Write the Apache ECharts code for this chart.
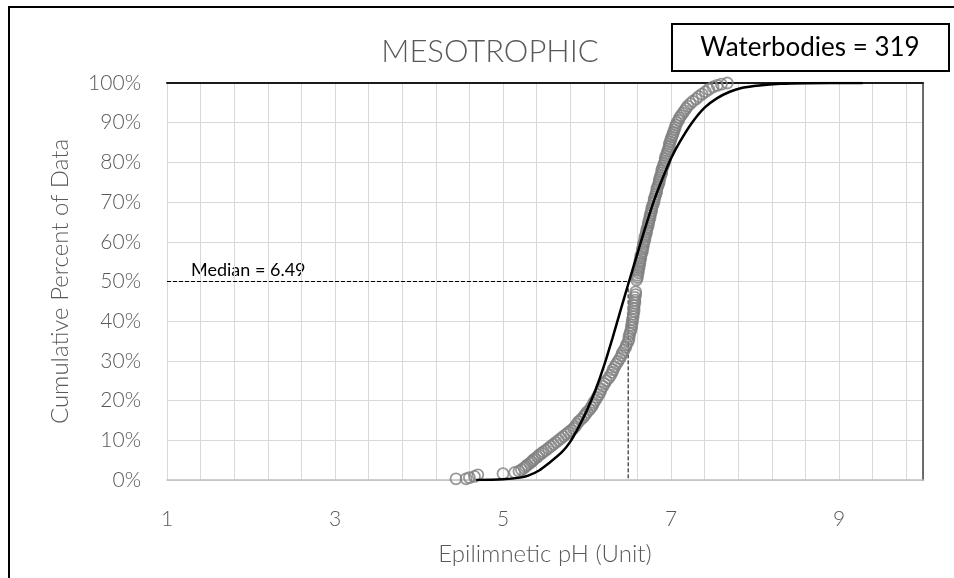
<!DOCTYPE html>
<html>
<head>
<meta charset="utf-8">
<script src="https://cdn.jsdelivr.net/npm/echarts@6/dist/echarts.min.js"></script>
<style>html,body{margin:0;padding:0;background:#fff}#c{width:954px;height:578px}</style>
</head>
<body>
<div id="c"></div>
<script>
// ---- data ----
const titleText = 'MESOTROPHIC';
const countText = 'Waterbodies = 319';
const xAxisTitle = 'Epilimnetic pH (Unit)';
const yAxisTitle = 'Cumulative Percent of Data';
const medianValue = 6.49;
const medianText = 'Median = 6.49';
const xTickLabels = ['1', '3', '5', '7', '9'];

const observedPoints = [
  [4.44,0.3],[4.56,0.3],[4.6,0.6],[4.66,0.9],[4.7,1.3],[5.0,1.6],[5.14,1.9],[5.19,2.2],[5.22,2.6],[5.25,3.0],
  [5.27,3.4],[5.29,3.8],[5.32,4.2],[5.34,4.6],[5.36,5.0],[5.38,5.4],[5.41,5.8],[5.43,6.3],[5.46,6.7],[5.48,7.1],
  [5.51,7.5],[5.54,8.0],[5.57,8.5],[5.6,9.0],[5.63,9.5],[5.66,10.0],[5.69,10.5],[5.72,11.0],[5.75,11.5],[5.78,12.0],
  [5.81,12.5],[5.84,13.0],[5.86,13.5],[5.88,14.1],[5.9,14.7],[5.93,15.3],[5.96,15.9],[5.98,16.5],[6.0,17.1],[6.03,17.7],
  [6.05,18.3],[6.07,18.9],[6.08,19.5],[6.1,20.1],[6.12,20.8],[6.14,21.5],[6.16,22.2],[6.17,22.9],[6.19,23.6],[6.21,24.3],
  [6.23,25.0],[6.26,25.7],[6.28,26.4],[6.3,27.1],[6.31,27.8],[6.33,28.5],[6.35,29.2],[6.37,29.9],[6.39,30.6],[6.41,31.3],
  [6.42,32.0],[6.44,32.7],[6.46,33.4],[6.47,34.1],[6.49,34.8],[6.5,35.5],[6.5,36.2],[6.51,36.9],[6.52,37.6],[6.53,38.3],
  [6.53,39.0],[6.54,39.7],[6.54,40.4],[6.55,41.1],[6.55,41.8],[6.56,42.5],[6.56,43.2],[6.56,43.9],[6.57,44.6],[6.57,45.3],
  [6.57,46.0],[6.58,46.7],[6.58,47.4],
  [6.59,50.4],[6.6,51.0],[6.6,51.6],[6.61,52.2],[6.61,52.8],[6.62,53.4],[6.62,54.0],[6.63,54.6],[6.63,55.2],[6.64,55.8],
  [6.64,56.4],[6.65,57.0],[6.66,57.6],[6.66,58.2],[6.67,58.8],[6.67,59.4],[6.68,60.0],[6.69,60.6],[6.69,61.2],[6.7,61.8],
  [6.71,62.4],[6.71,63.0],[6.72,63.6],[6.73,64.2],[6.73,64.8],[6.74,65.4],[6.75,66.0],[6.75,66.6],[6.76,67.2],[6.77,67.8],
  [6.77,68.4],[6.78,69.0],[6.79,69.6],[6.8,70.2],[6.8,70.8],[6.81,71.4],[6.82,72.0],[6.83,72.6],[6.83,73.2],[6.84,73.8],
  [6.85,74.4],[6.86,75.0],[6.86,75.6],[6.87,76.2],[6.88,76.8],[6.89,77.4],[6.89,78.0],[6.9,78.6],[6.91,79.2],[6.92,79.8],
  [6.93,80.4],[6.93,81.0],[6.94,81.6],[6.95,82.2],[6.96,82.8],[6.97,83.4],[6.98,84.0],[6.98,84.6],[6.99,85.2],[7.0,85.8],
  [7.01,86.4],[7.02,87.0],[7.03,87.6],[7.04,88.2],[7.05,88.8],[7.06,89.4],[7.07,90.0],[7.09,90.6],[7.1,91.2],[7.12,91.8],
  [7.14,92.4],[7.16,93.0],[7.18,93.6],[7.2,94.2],[7.23,94.8],[7.26,95.4],[7.3,96.0],[7.33,96.6],[7.37,97.2],[7.41,97.8],
  [7.45,98.4],[7.5,99.0],[7.55,99.4],[7.6,99.7],[7.67,100]
];

// fitted curve: pH and cumulative %
const fitPH  = [4.68,5.0,5.2,5.3,5.43,5.55,5.7,5.8,5.9,6.0,6.1,6.2,6.3,6.4,6.5,6.6,6.7,6.8,6.9,7.0,7.1,7.25,7.4,7.55,7.7,7.85,8.05,8.3,8.6,9.28];
const fitPct = [0.0,0.2,0.6,1.1,2.4,4.3,7.0,9.6,13.3,17.6,22.6,28.6,35.5,42.8,50.0,57.0,64.0,70.5,76.0,81.0,85.0,90.0,93.8,96.2,97.8,98.8,99.4,99.8,99.95,100];

const fit = fitPH.map((x, i) => [x, fitPct[i]]);
const medianPath = [[1, 50], [medianValue, 50], [medianValue, 0]];

const FONT = 'Lato';
const GRAY = '#595959';

const chart = echarts.init(document.getElementById('c'), null, {renderer: 'canvas'});
chart.setOption({
  animation: false,
  backgroundColor: '#fff',
  textStyle: {fontFamily: FONT},
  grid: {left: 167, right: 31, top: 83, bottom: 98, containLabel: false},
  xAxis: [{
    type: 'value', min: 1, max: 10, interval: 1,
    name: xAxisTitle, nameLocation: 'middle', nameGap: 62,
    nameTextStyle: {color: GRAY, fontSize: 24, fontFamily: FONT, fontWeight: 300},
    axisLine: {show: true, onZero: false, lineStyle: {color: '#bfbfbf', width: 1.5}},
    axisTick: {show: false},
    splitLine: {show: false},
    axisLabel: {
      color: GRAY, fontSize: 21, margin: 29, fontFamily: FONT, fontWeight: 300,
      formatter: v => { const s = String(Math.round(v)); return (Math.abs(v - Math.round(v)) < 1e-6 && xTickLabels.indexOf(s) >= 0) ? s : ''; }
    }
  }, {
    type: 'value', min: 0, max: 9, interval: 0.4, position: 'top',
    axisLine: {show: true, onZero: false, lineStyle: {color: '#1a1a1a', width: 2}},
    axisTick: {show: false}, axisLabel: {show: false},
    splitLine: {show: true, lineStyle: {color: '#d9d9d9', width: 1}}
  }],
  yAxis: [{
    type: 'value', min: 0, max: 100, interval: 10,
    name: yAxisTitle, nameLocation: 'middle', nameGap: 95,
    nameTextStyle: {color: GRAY, fontSize: 24, fontFamily: FONT, fontWeight: 300},
    axisLine: {show: true, onZero: false, lineStyle: {color: '#d9d9d9', width: 1}},
    axisTick: {show: false},
    splitLine: {show: true, lineStyle: {color: '#d9d9d9', width: 1}},
    axisLabel: {color: GRAY, fontSize: 21, margin: 26, formatter: '{value}%', fontFamily: FONT, fontWeight: 300}
  }, {
    type: 'value', min: 0, max: 100, position: 'right',
    axisLine: {show: true, onZero: false, lineStyle: {color: '#404040', width: 1.5}},
    axisTick: {show: false}, axisLabel: {show: false}, splitLine: {show: false}
  }],
  series: [{
    type: 'line', data: medianPath, xAxisIndex: 0, yAxisIndex: 0,
    symbol: 'none', z: 1,
    lineStyle: {color: '#000', width: 1, type: [4, 2]}
  }, {
    type: 'scatter', data: observedPoints, xAxisIndex: 0, yAxisIndex: 0,
    symbol: 'circle', symbolSize: 11, z: 2,
    itemStyle: {color: 'rgba(0,0,0,0)', borderColor: '#7f7f7f', borderWidth: 1.8}
  }, {
    type: 'line', data: fit, xAxisIndex: 0, yAxisIndex: 0,
    symbol: 'none', smooth: 0.3, z: 3,
    lineStyle: {color: '#000', width: 2.5}
  }],
  graphic: [
    {type: 'rect', shape: {x: 9, y: 7, width: 1000, height: 1000}, style: {fill: 'none', stroke: '#000', lineWidth: 2}, silent: true},
    {type: 'text', x: 490, y: 52, style: {text: titleText, fill: GRAY, font: '300 31px Lato', textAlign: 'center', textVerticalAlign: 'middle'}, silent: true},
    {type: 'rect', shape: {x: 672, y: 24, width: 277, height: 47}, style: {fill: '#fff', stroke: '#000', lineWidth: 2}, silent: true},
    {type: 'text', x: 810, y: 48, style: {text: countText, fill: '#000', font: '26px Lato', textAlign: 'center', textVerticalAlign: 'middle'}, silent: true},
    {type: 'text', x: 191, y: 270, style: {text: medianText, fill: '#000', font: '18px Lato', textAlign: 'left', textVerticalAlign: 'middle'}, silent: true}
  ]
});
</script>
</body>
</html>
